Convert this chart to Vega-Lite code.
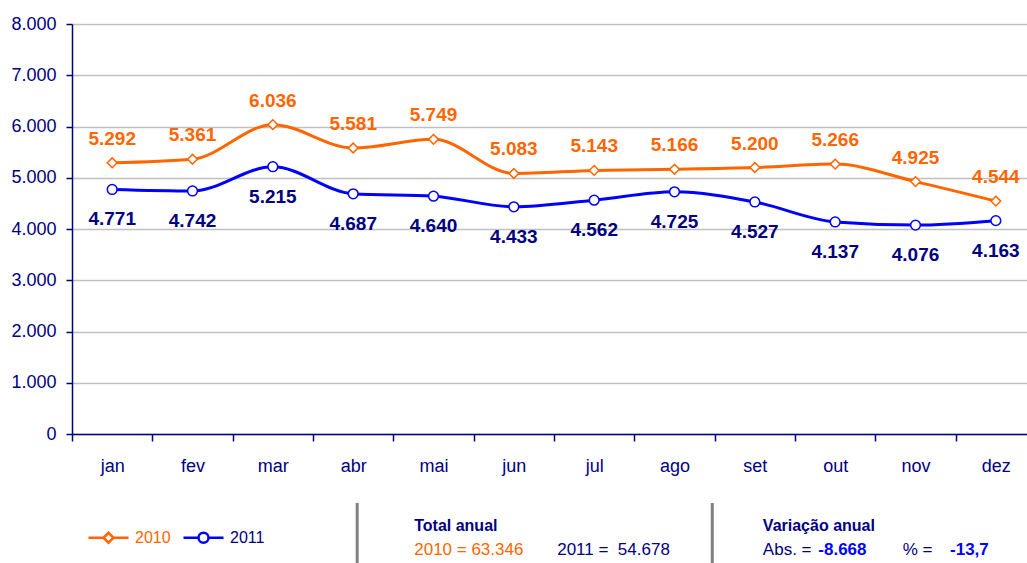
{
  "$schema": "https://vega.github.io/schema/vega-lite/v6.json",
  "width": 955,
  "height": 410,
  "autosize": {"type": "none"},
  "padding": {"left": 72, "top": 24, "right": 0, "bottom": 129},
  "background": "white",
  "config": {
    "view": {"stroke": null},
    "font": "Liberation Sans",
    "locale": {"number": {"decimal": ",", "thousands": ".", "grouping": [3], "currency": ["", ""]}},
    "axis": {"labelFont": "Liberation Sans"},
    "legend": {"labelFont": "Liberation Sans"}
  },
  "datasets": {
    "sales": [
      {"month": "jan", "year": "2010", "value": 5292},
      {"month": "fev", "year": "2010", "value": 5361},
      {"month": "mar", "year": "2010", "value": 6036},
      {"month": "abr", "year": "2010", "value": 5581},
      {"month": "mai", "year": "2010", "value": 5749},
      {"month": "jun", "year": "2010", "value": 5083},
      {"month": "jul", "year": "2010", "value": 5143},
      {"month": "ago", "year": "2010", "value": 5166},
      {"month": "set", "year": "2010", "value": 5200},
      {"month": "out", "year": "2010", "value": 5266},
      {"month": "nov", "year": "2010", "value": 4925},
      {"month": "dez", "year": "2010", "value": 4544},
      {"month": "jan", "year": "2011", "value": 4771},
      {"month": "fev", "year": "2011", "value": 4742},
      {"month": "mar", "year": "2011", "value": 5215},
      {"month": "abr", "year": "2011", "value": 4687},
      {"month": "mai", "year": "2011", "value": 4640},
      {"month": "jun", "year": "2011", "value": 4433},
      {"month": "jul", "year": "2011", "value": 4562},
      {"month": "ago", "year": "2011", "value": 4725},
      {"month": "set", "year": "2011", "value": 4527},
      {"month": "out", "year": "2011", "value": 4137},
      {"month": "nov", "year": "2011", "value": 4076},
      {"month": "dez", "year": "2011", "value": 4163}
    ]
  },
  "layer": [
    {
      "data": {"name": "sales"},
      "mark": {"type": "line", "interpolate": "monotone", "strokeWidth": 3},
      "encoding": {
        "x": {
          "field": "month", "type": "ordinal", "title": null,
          "scale": {"type": "band", "domain": ["jan","fev","mar","abr","mai","jun","jul","ago","set","out","nov","dez"], "range": [0, 964], "paddingInner": 0, "paddingOuter": 0},
          "axis": {"tickBand": "extent", "domainColor": "#000080", "domainWidth": 1.5, "tickColor": "#000080", "tickWidth": 1.5, "tickSize": 7, "labelColor": "#000080", "labelFontSize": 18, "labelPadding": 16, "labelAngle": 0, "grid": false}
        },
        "y": {
          "field": "value", "type": "quantitative", "title": null,
          "scale": {"domain": [0, 8000], "nice": false, "zero": true},
          "axis": {"values": [0,1000,2000,3000,4000,5000,6000,7000,8000], "format": ",d", "domainColor": "#000080", "domainWidth": 1.5, "tickColor": "#000080", "tickWidth": 1.5, "tickSize": 6, "labelColor": "#000080", "labelFontSize": 18, "labelPadding": 10, "grid": true, "gridColor": "#C0C0C0", "gridWidth": 1.5}
        },
        "color": {
          "field": "year", "type": "nominal",
          "scale": {"domain": ["2010", "2011"], "range": ["#FF6600", "#0000FF"]},
          "legend": {
            "orient": "none", "legendX": 15, "legendY": 492, "direction": "horizontal", "title": null,
            "padding": 0, "symbolSize": 1600, "symbolStrokeWidth": 2.5, "symbolType": "M-1,0L-0.25,0M0.25,0L1,0M-0.25,0L0,-0.25L0.25,0L0,0.25Z",
            "labelFontSize": 16, "labelOffset": 5, "columnPadding": 7,
            "encode": {
              "symbols": {"update": {
                "shape": {"signal": "datum.value === '2010' ? 'M-1,0L-0.25,0M0.25,0L1,0M-0.25,0L0,-0.25L0.25,0L0,0.25Z' : 'M-1,0L-0.25,0M0.25,0L1,0M0.25,0A0.25,0.25,0,1,1,-0.25,0A0.25,0.25,0,1,1,0.25,0Z'"},
                "fill": {"value": "white"},
                "fillOpacity": {"value": 1}
              }},
              "labels": {"update": {"fill": {"signal": "datum.value === '2010' ? '#FF6600' : '#000080'"}}}
            }
          }
        }
      }
    },
    {
      "data": {"name": "sales"},
      "transform": [{"filter": "datum.year === '2010'"}],
      "mark": {"type": "point", "shape": "diamond", "filled": false, "fill": "white", "fillOpacity": 1, "strokeWidth": 1.5, "size": 95, "opacity": 1},
      "encoding": {
        "x": {"field": "month", "type": "ordinal"},
        "y": {"field": "value", "type": "quantitative"},
        "color": {"field": "year", "type": "nominal"}
      }
    },
    {
      "data": {"name": "sales"},
      "transform": [{"filter": "datum.year === '2011'"}],
      "mark": {"type": "point", "shape": "circle", "filled": false, "fill": "white", "fillOpacity": 1, "strokeWidth": 1.5, "size": 95, "opacity": 1},
      "encoding": {
        "x": {"field": "month", "type": "ordinal"},
        "y": {"field": "value", "type": "quantitative"},
        "color": {"field": "year", "type": "nominal"}
      }
    },
    {
      "data": {"name": "sales"},
      "transform": [{"filter": "datum.year === '2010'"}],
      "mark": {"type": "text", "dy": -24, "fontSize": 19, "fontWeight": "bold", "color": "#FF6600"},
      "encoding": {
        "x": {"field": "month", "type": "ordinal"},
        "y": {"field": "value", "type": "quantitative"},
        "text": {"field": "value", "type": "quantitative", "format": ",d"}
      }
    },
    {
      "data": {"name": "sales"},
      "transform": [{"filter": "datum.year === '2011'"}],
      "mark": {"type": "text", "dy": 30, "fontSize": 19, "fontWeight": "bold", "color": "#000080"},
      "encoding": {
        "x": {"field": "month", "type": "ordinal"},
        "y": {"field": "value", "type": "quantitative"},
        "text": {"field": "value", "type": "quantitative", "format": ",d"}
      }
    },
    {
      "data": {"values": [{"sep": "a"}]},
      "mark": {"type": "rule", "color": "#808080", "strokeWidth": 3},
      "encoding": {
        "x": {"datum": "abr", "type": "ordinal", "bandPosition": 0.55},
        "y": {"datum": -1346, "type": "quantitative"},
        "y2": {"datum": -2517}
      }
    },
    {
      "data": {"values": [{"sep": "b"}]},
      "mark": {"type": "rule", "color": "#808080", "strokeWidth": 3},
      "encoding": {
        "x": {"datum": "ago", "type": "ordinal", "bandPosition": 0.97},
        "y": {"datum": -1346, "type": "quantitative"},
        "y2": {"datum": -2517}
      }
    },
    {
      "data": {"values": [{"label": "Total anual"}]},
      "mark": {"type": "text", "align": "left", "baseline": "middle", "fontSize": 16, "fontWeight": "bold", "color": "#000080"},
      "encoding": {
        "x": {"datum": "mai", "type": "ordinal", "bandPosition": 0.26},
        "y": {"datum": -1795, "type": "quantitative"},
        "text": {"field": "label"}
      }
    },
    {
      "data": {"values": [{"label": "2010 = 63.346"}]},
      "mark": {"type": "text", "align": "left", "baseline": "middle", "fontSize": 17, "color": "#FF6600"},
      "encoding": {
        "x": {"datum": "mai", "type": "ordinal", "bandPosition": 0.26},
        "y": {"datum": -2263, "type": "quantitative"},
        "text": {"field": "label"}
      }
    },
    {
      "data": {"values": [{"label": "2011 =\u00a0 54.678"}]},
      "mark": {"type": "text", "align": "left", "baseline": "middle", "fontSize": 17, "color": "#000080"},
      "encoding": {
        "x": {"datum": "jul", "type": "ordinal", "bandPosition": 0.04},
        "y": {"datum": -2263, "type": "quantitative"},
        "text": {"field": "label"}
      }
    },
    {
      "data": {"values": [{"label": "Variação anual"}]},
      "mark": {"type": "text", "align": "left", "baseline": "middle", "fontSize": 16, "fontWeight": "bold", "color": "#000080"},
      "encoding": {
        "x": {"datum": "set", "type": "ordinal", "bandPosition": 0.6},
        "y": {"datum": -1795, "type": "quantitative"},
        "text": {"field": "label"}
      }
    },
    {
      "data": {"values": [{"label": "Abs. ="}]},
      "mark": {"type": "text", "align": "left", "baseline": "middle", "fontSize": 17, "color": "#000080"},
      "encoding": {
        "x": {"datum": "set", "type": "ordinal", "bandPosition": 0.6},
        "y": {"datum": -2263, "type": "quantitative"},
        "text": {"field": "label"}
      }
    },
    {
      "data": {"values": [{"label": "-8.668"}]},
      "mark": {"type": "text", "align": "left", "baseline": "middle", "fontSize": 17, "fontWeight": "bold", "color": "#0000FF"},
      "encoding": {
        "x": {"datum": "out", "type": "ordinal", "bandPosition": 0.29},
        "y": {"datum": -2263, "type": "quantitative"},
        "text": {"field": "label"}
      }
    },
    {
      "data": {"values": [{"label": "% ="}]},
      "mark": {"type": "text", "align": "left", "baseline": "middle", "fontSize": 17, "color": "#000080"},
      "encoding": {
        "x": {"datum": "nov", "type": "ordinal", "bandPosition": 0.34},
        "y": {"datum": -2263, "type": "quantitative"},
        "text": {"field": "label"}
      }
    },
    {
      "data": {"values": [{"label": "-13,7"}]},
      "mark": {"type": "text", "align": "left", "baseline": "middle", "fontSize": 17, "fontWeight": "bold", "color": "#0000FF"},
      "encoding": {
        "x": {"datum": "nov", "type": "ordinal", "bandPosition": 0.93},
        "y": {"datum": -2263, "type": "quantitative"},
        "text": {"field": "label"}
      }
    }
  ]
}
